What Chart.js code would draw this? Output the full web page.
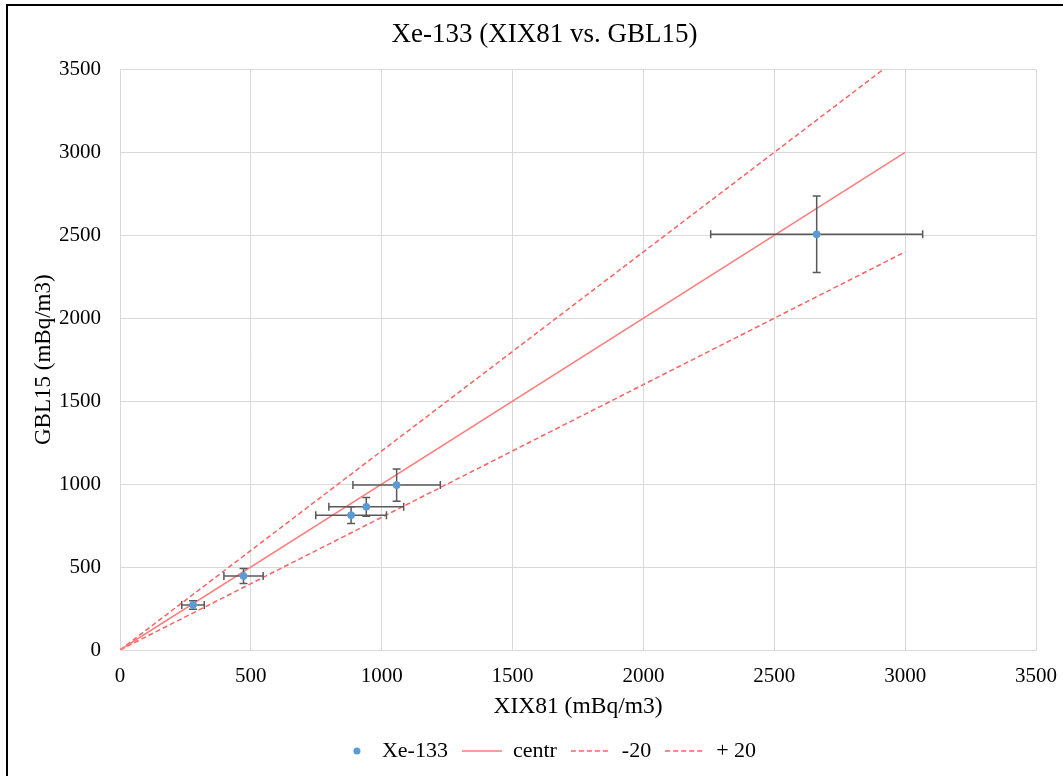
<!DOCTYPE html>
<html>
<head>
<meta charset="utf-8">
<script src="https://cdn.jsdelivr.net/npm/chart.js@4.4.1/dist/chart.umd.min.js"></script>
<style>
    body { margin: 0; background: #fff; overflow: hidden; }
    #frame { position: absolute; left: 6px; top: 4px; width: 1200px; height: 900px; border-left: 2px solid #000; border-top: 2px solid #000; }
    #chart { position: absolute; left: 0; top: 0; }
</style>
</head>
<body>
<div id="frame"></div>
<canvas id="chart" width="1063" height="776"></canvas>
<script>
// Messwerte Xe-133
const xVals = [279, 472, 883, 941, 1057, 2662];
const yVals = [271, 446, 813, 863, 994, 2506];
const xErr = [43, 75, 135, 143, 167, 405];
const yErr = [26, 45, 51, 57, 97, 231];

// Referenzlinien
const lineX = [0, 3000];
const centrY = [0, 3000];
const minus20Y = [0, 2400];
const plus20Y = [0, 3600];

const axisTicks = [0, 500, 1000, 1500, 2000, 2500, 3000, 3500];

const serif = '"Liberation Serif", "Times New Roman", serif';
const gridColor = '#d9d9d9';
const lineRed = '#ff7c7c';
const dashRed = '#ff6262';
const pointBlue = '#5b9bd5';

function toPoints(xs, ys) {
    return xs.map((x, i) => ({ x: x, y: ys[i] }));
}

// kleine Bilder fuer die Legende
function legendImage(kind, color, dash) {
    const c = document.createElement('canvas');
    c.width = 40;
    c.height = 10;
    const g = c.getContext('2d');
    if (kind === 'dot') {
        g.fillStyle = color;
        g.beginPath();
        g.arc(26, 5, 3.5, 0, Math.PI * 2);
        g.fill();
    } else {
        g.strokeStyle = color;
        g.lineWidth = 1.5;
        g.setLineDash(dash);
        g.beginPath();
        g.moveTo(0, 5);
        g.lineTo(40, 5);
        g.stroke();
    }
    return c;
}

// Fehlerbalken fuer die Messpunkte
const errorBars = {
    id: 'errorBars',
    beforeDatasetDraw(chart, args) {
        if (args.index !== 0) return;
        const ctx = chart.ctx;
        const sx = chart.scales.x;
        const sy = chart.scales.y;
        const cap = 4;
        ctx.save();
        ctx.strokeStyle = '#595959';
        ctx.lineWidth = 1.5;
        xVals.forEach((x, i) => {
            const px = sx.getPixelForValue(x);
            const py = sy.getPixelForValue(yVals[i]);
            const x0 = sx.getPixelForValue(x - xErr[i]);
            const x1 = sx.getPixelForValue(x + xErr[i]);
            const y0 = sy.getPixelForValue(yVals[i] - yErr[i]);
            const y1 = sy.getPixelForValue(yVals[i] + yErr[i]);
            ctx.beginPath();
            ctx.moveTo(x0, py); ctx.lineTo(x1, py);
            ctx.moveTo(x0, py - cap); ctx.lineTo(x0, py + cap);
            ctx.moveTo(x1, py - cap); ctx.lineTo(x1, py + cap);
            ctx.moveTo(px, y0); ctx.lineTo(px, y1);
            ctx.moveTo(px - cap, y0); ctx.lineTo(px + cap, y0);
            ctx.moveTo(px - cap, y1); ctx.lineTo(px + cap, y1);
            ctx.stroke();
        });
        ctx.restore();
    }
};

// Titel und Legende etwas nach rechts schieben (wie im Original)
const shiftBoxes = {
    id: 'shiftBoxes',
    afterLayout(chart) {
        if (chart.titleBlock) { chart.titleBlock.left += 15; chart.titleBlock.right += 15; }
        if (chart.legend) { chart.legend.left += 14; chart.legend.right += 14; }
    }
};

const legendPics = [
    legendImage('dot', pointBlue),
    legendImage('line', lineRed, []),
    legendImage('line', dashRed, [5, 3]),
    legendImage('line', dashRed, [5, 3])
];

const plainTicks = { color: '#000', font: { family: serif, size: 21 }, callback: (v) => String(v) };

new Chart(document.getElementById('chart'), {
    type: 'scatter',
    data: {
        datasets: [{
            label: 'Xe-133',
            data: toPoints(xVals, yVals),
            backgroundColor: pointBlue,
            borderColor: pointBlue,
            pointRadius: 3.5,
            pointHoverRadius: 3.5
        }, {
            label: 'centr',
            type: 'line',
            data: toPoints(lineX, centrY),
            borderColor: lineRed,
            borderWidth: 1.5,
            pointRadius: 0,
            fill: false
        }, {
            label: '-20',
            type: 'line',
            data: toPoints(lineX, minus20Y),
            borderColor: dashRed,
            borderWidth: 1.5,
            borderDash: [5, 3],
            pointRadius: 0,
            fill: false
        }, {
            label: '+ 20',
            type: 'line',
            data: toPoints(lineX, plus20Y),
            borderColor: dashRed,
            borderWidth: 1.5,
            borderDash: [5, 3],
            pointRadius: 0,
            fill: false
        }]
    },
    options: {
        responsive: false,
        animation: false,
        layout: { padding: { left: 8, right: 12, top: 11, bottom: 4 } },
        plugins: {
            title: {
                display: true,
                text: 'Xe-133 (XIX81 vs. GBL15)',
                color: '#000',
                font: { family: serif, size: 27, weight: 'normal' },
                padding: { top: 8, bottom: 18 }
            },
            legend: {
                position: 'bottom',
                labels: {
                    color: '#000',
                    font: { family: serif, size: 22 },
                    usePointStyle: true,
                    pointStyleWidth: 40,
                    padding: 14,
                    generateLabels: (chart) => chart.data.datasets.map((ds, i) => ({
                        text: ds.label,
                        pointStyle: legendPics[i],
                        fillStyle: 'transparent',
                        strokeStyle: 'transparent',
                        lineWidth: 0,
                        datasetIndex: i
                    }))
                }
            },
            tooltip: { enabled: false }
        },
        scales: {
            x: {
                type: 'linear',
                min: 0,
                max: 3500,
                afterBuildTicks: (scale) => { scale.ticks = axisTicks.map(v => ({ value: v })); },
                afterFit: (scale) => { scale.height = 76; scale.paddingRight = 27; },
                grid: { color: gridColor, drawTicks: false },
                border: { color: gridColor },
                ticks: { ...plainTicks, padding: 14 },
                title: {
                    display: true,
                    text: 'XIX81 (mBq/m3)',
                    color: '#000',
                    font: { family: serif, size: 23.5 },
                    padding: { top: 4, bottom: 5 }
                }
            },
            y: {
                type: 'linear',
                min: 0,
                max: 3500,
                afterBuildTicks: (scale) => { scale.ticks = axisTicks.map(v => ({ value: v })); },
                afterFit: (scale) => { scale.width = 112; },
                grid: { color: gridColor, drawTicks: false },
                border: { color: gridColor },
                ticks: { ...plainTicks, padding: 19 },
                title: {
                    display: true,
                    text: 'GBL15 (mBq/m3)',
                    color: '#000',
                    font: { family: serif, size: 23 },
                    padding: { top: 22, bottom: 4 }
                }
            }
        }
    },
    plugins: [errorBars, shiftBoxes]
});
</script>
</body>
</html>
